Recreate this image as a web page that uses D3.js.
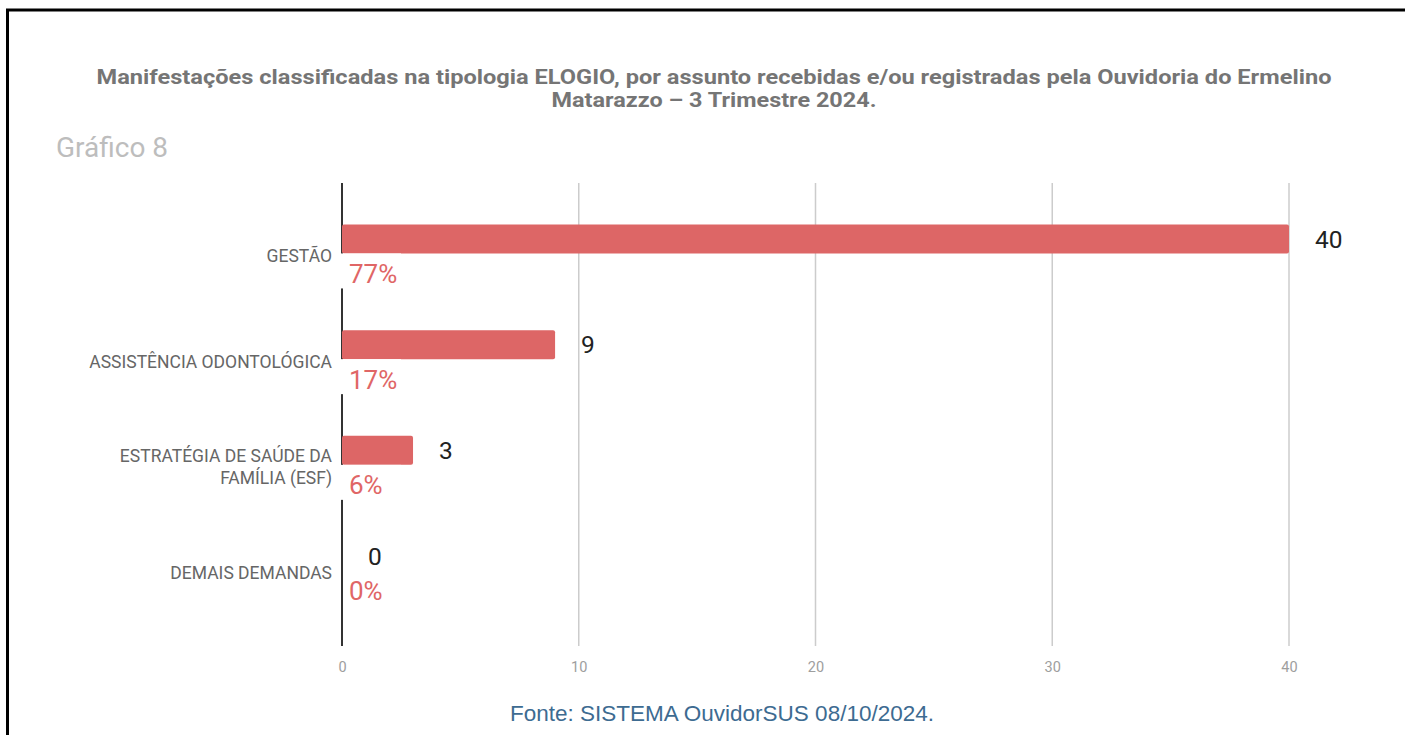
<!DOCTYPE html>
<html><head><meta charset="utf-8">
<script src="https://cdn.jsdelivr.net/npm/d3@7"></script>
<style>html,body{margin:0;padding:0;background:#fff;}svg{display:block;}</style>
</head><body>
<script>
const categories = [["GESTÃO"], ["ASSISTÊNCIA ODONTOLÓGICA"], ["ESTRATÉGIA DE SAÚDE DA", "FAMÍLIA (ESF)"], ["DEMAIS DEMANDAS"]];
const values = [40, 9, 3, 0];
const percents = ["77%", "17%", "6%", "0%"];
const xTicks = [0, 10, 20, 30, 40];
const titleLines = ["Manifestações classificadas na tipologia ELOGIO, por assunto recebidas e/ou registradas pela Ouvidoria do Ermelino", "Matarazzo – 3 Trimestre 2024."];
const subtitle = "Gráfico 8";
const source = "Fonte: SISTEMA OuvidorSUS 08/10/2024.";

const W = 1405, H = 735;
const svg = d3.select("body").append("svg").attr("width", W).attr("height", H);

// frame
svg.append("path").attr("d", `M7.5,735 L7.5,10 L1405,10`).attr("fill", "none").attr("stroke", "#000").attr("stroke-width", 3);

const plotTop = 183, plotBottom = 646;
const x = d3.scaleLinear().domain([0, 40]).range([342, 1289]);
const y = d3.scalePoint().domain(d3.range(categories.length)).range([plotTop, plotBottom]).padding(0.69);

// title (widths matched to the reference)
const titleWidths = [1235, 325];
svg.append("g").selectAll("text").data(titleLines).join("text")
  .attr("x", 714).attr("y", (d, i) => 84 + i * 23)
  .attr("text-anchor", "middle").attr("font-family", "Roboto").attr("font-weight", "bold")
  .attr("font-size", 20.5).attr("fill", "#757575")
  .attr("textLength", (d, i) => titleWidths[i]).attr("lengthAdjust", "spacingAndGlyphs")
  .text(d => d);

svg.append("text").attr("x", 56).attr("y", 157).attr("font-family", "Roboto")
  .attr("font-size", 28).attr("fill", "#bdbdbd").text(subtitle);

// grid
svg.append("g").selectAll("line").data(xTicks.filter(d => d > 0)).join("line")
  .attr("x1", d => x(d)).attr("x2", d => x(d)).attr("y1", plotTop).attr("y2", plotBottom)
  .attr("stroke", "#cccccc").attr("stroke-width", 1.5);

// axis tick labels
const xAxis = d3.axisBottom(x).tickValues(xTicks).tickSize(0).tickPadding(0);
const gx = svg.append("g").attr("transform", `translate(0,${plotBottom + 16})`).call(xAxis);
gx.select(".domain").remove();
gx.selectAll("text").attr("font-family", "Roboto").attr("font-size", 14.5).attr("fill", "#9e9e9e");

// y axis line
svg.append("line").attr("x1", x(0)).attr("x2", x(0)).attr("y1", plotTop).attr("y2", plotBottom)
  .attr("stroke", "#333").attr("stroke-width", 2);

const barH = 29;
const g = svg.append("g").selectAll("g").data(values).join("g");

g.each(function(d, i) {
  const gg = d3.select(this);
  const cy = y(i);
  if (d > 0) {
    gg.append("rect").attr("x", x(0)).attr("y", cy - 17 - barH / 2)
      .attr("width", x(d) - x(0)).attr("height", barH).attr("rx", 2).attr("fill", "#dd6666");
    gg.append("rect").attr("x", x(0) - 3).attr("y", cy - 17 + barH / 2).attr("width", 62).attr("height", 35).attr("fill", "#fff");
  }
  gg.append("text").attr("x", x(d) + 26).attr("y", cy - 17).attr("dy", "0.35em")
    .attr("font-family", "Roboto").attr("font-size", 24.5).attr("fill", "#222").text(d);
  gg.append("text").attr("x", x(0) + 7).attr("y", cy + 18).attr("dy", "0.35em")
    .attr("font-family", "Roboto").attr("font-size", 26).attr("fill", "#e06666").text(percents[i]);
  const lines = categories[i];
  gg.append("g").selectAll("text").data(lines).join("text")
    .attr("x", 332).attr("y", (l, j) => cy + (j - (lines.length - 1) / 2) * 22).attr("dy", "0.35em")
    .attr("text-anchor", "end").attr("font-family", "Roboto").attr("font-size", 17.5).attr("fill", "#666").text(l => l);
});

svg.append("text").attr("x", 722).attr("y", 721).attr("text-anchor", "middle")
  .attr("font-family", "Liberation Sans, Arial").attr("font-size", 22.5).attr("fill", "#3d6b91").text(source);
</script>
</body></html>
